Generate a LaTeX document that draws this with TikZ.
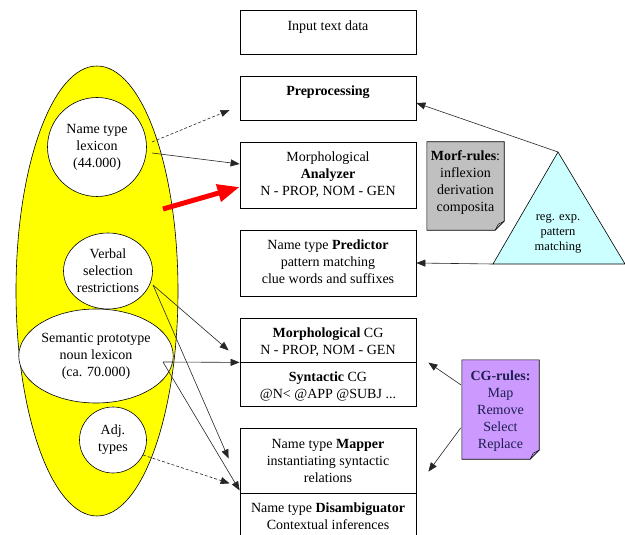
\documentclass[tikz,border=0pt]{standalone}
\usepackage{fontspec}
\setmainfont{Liberation Serif}
\usetikzlibrary{arrows.meta,shapes.geometric,calc}
\definecolor{yel}{RGB}{255,255,0}
\definecolor{cyanfill}{RGB}{204,255,255}
\definecolor{grayfill}{RGB}{192,192,192}
\definecolor{purplefill}{RGB}{204,153,255}
\definecolor{navytext}{RGB}{30,30,80}
\definecolor{redarrow}{RGB}{255,0,0}
\tikzset{
  stagebox/.style={draw, line width=0.8pt, minimum width=176pt, inner sep=0pt},
  stagetxt/.style={align=center, inner sep=0pt, anchor=north},
  lexnode/.style={draw, line width=0.6pt, fill=white, ellipse, inner sep=0pt, align=center},
  conn/.style={line width=0.6pt, draw=black!85, -{Triangle[length=9pt,width=7pt]}},
  dconn/.style={conn, dashed, dash pattern=on 3pt off 2pt},
  notetxt/.style={align=center, inner sep=0pt, anchor=north},
}
\begin{document}
\begin{tikzpicture}[x=1pt,y=-1pt,font=\fontsize{14}{17}\selectfont]
\clip (0,0) rectangle (625,535);
\fill[white] (0,0) rectangle (625,535);

% big yellow ellipse
\node[draw, line width=0.6pt, fill=yel, ellipse, minimum width=162pt, minimum height=450pt, inner sep=0pt] (big) at (97,291) {};

% left lexicon nodes
\node[lexnode, minimum width=99pt, minimum height=99pt] (lex) at (97,147) {Name type\\lexicon\\(44.000)};
\node[lexnode, minimum width=89pt, minimum height=76pt] (verb) at (108,271) {Verbal\\selection\\restrictions};
\node[lexnode, minimum width=131pt, minimum height=94pt] (sem) at (96,356) {Semantic prototype\\noun lexicon\\(ca. 70.000)};
\node[lexnode, minimum width=67pt, minimum height=66pt] (adj) at (113,440) {Adj.\\types};

% stage boxes
\node[stagebox, minimum height=44pt] (inp) at (328,32) {};
\node[stagetxt] (inpT) at ($(inp.north)+(0,11)$) {Input text data};
\node[stagebox, minimum height=44pt] (pre) at (328,98) {};
\node[stagetxt] (preT) at ($(pre.north)+(0,10)$) {\textbf{Preprocessing}};
\node[stagebox, minimum height=66pt] (ana) at (328,175) {};
\node[stagetxt] (anaT) at ($(ana.north)+(0,10)$) {Morphological\\\textbf{Analyzer}\\N - PROP, NOM - GEN};
\node[stagebox, minimum height=66pt] (pred) at (328,263) {};
\node[stagetxt] (predT) at ($(pred.north)+(0,10)$) {Name type \textbf{Predictor}\\pattern matching\\clue words and suffixes};
\node[stagebox, minimum height=44pt] (mcg) at (328,340) {};
\node[stagetxt] (mcgT) at ($(mcg.north)+(0,10)$) {\textbf{Morphological} CG\\N - PROP, NOM - GEN};
\node[stagebox, minimum height=44pt] (syn) at (328,384) {};
\node[stagetxt] (synT) at ($(syn.north)+(0,10)$) {\textbf{Syntactic} CG\\@N< @APP @SUBJ ...};
\node[stagebox, minimum height=65pt] (map) at (328,460.5) {};
\node[stagetxt] (mapT) at ($(map.north)+(0,12)$) {Name type \textbf{Mapper}\\instantiating syntactic\\relations};
\node[stagebox, minimum height=50pt] (dis) at (328,518) {};
\node[stagetxt] (disT) at ($(dis.north)+(0,10)$) {Name type \textbf{Disambiguator}\\Contextual inferences};

% Morf-rules note
\node[minimum width=77pt, minimum height=88pt, inner sep=0pt] (mr) at (465.5,186) {};
\draw[line width=0.6pt, fill=grayfill] (mr.north west) -- (mr.north east) -- ($(mr.south east)+(0,-9)$) -- ($(mr.south east)+(-9,0)$) -- (mr.south west) -- cycle;
\draw[line width=0.5pt] ($(mr.south east)+(-9,0)$) -- ($(mr.south east)+(-6,-6)$) -- ($(mr.south east)+(0,-9)$);
\node[notetxt] (mrT) at ($(mr.north)+(0,9)$) {\textbf{Morf-rules}:\\inflexion\\derivation\\composita};

% CG-rules note
\node[minimum width=77pt, minimum height=99pt, inner sep=0pt] (cgr) at (500.5,409.5) {};
\draw[line width=0.6pt, fill=purplefill] (cgr.north west) -- (cgr.north east) -- ($(cgr.south east)+(0,-9)$) -- ($(cgr.south east)+(-9,0)$) -- (cgr.south west) -- cycle;
\draw[line width=0.5pt] ($(cgr.south east)+(-9,0)$) -- ($(cgr.south east)+(-6,-6)$) -- ($(cgr.south east)+(0,-9)$);
\node[notetxt, text=navytext] (cgrT) at ($(cgr.north)+(0,11)$) {\textbf{CG-rules:}\\Map\\Remove\\Select\\Replace};

% triangle
\coordinate (apex) at (558,152);
\coordinate (bl) at (493,264);
\coordinate (br) at (625,264);
\draw[line width=0.6pt, fill=cyanfill] (apex) -- (br) -- (bl) -- cycle;
\node[align=center, inner sep=0pt, font=\fontsize{12.5}{15}\selectfont] (tri) at (558,234) {reg. exp.\\pattern\\matching};

% connectors
\draw[dconn] ($(lex.center)+(55,-5)$) -- ($(pre.west)+(-10,12)$);
\draw[conn] ($(lex.center)+(55,6)$) -- ($(ana.west)+(0,-11)$);
\coordinate (redstart) at (163,209);
\draw[line width=5pt, draw=redarrow, -{Triangle[length=22pt,width=17pt]}] (redstart) -- ($(ana.west)+(0,12)$);
\draw[conn] (apex) -- ($(pre.east)+(0,5)$);
\draw[conn] (bl) -- (pred.east);
\draw[conn] ($(verb.center)+(45,14)$) -- ($(mcg.south west)+(-11,-12)$);
\draw[conn] ($(verb.center)+(45,14)$) -- ($(map.west)+(-11,-2)$);
\draw[conn] ($(sem.center)+(67,6)$) -- (mcg.south west);
\draw[conn] ($(sem.center)+(67,6)$) -- ($(map.south west)+(0,-3)$);
\draw[dconn] ($(adj.center)+(30,15)$) -- ($(map.south west)+(-10,-10)$);
\draw[conn] ($(cgr.north west)+(-1,25)$) -- ($(syn.north east)+(12,1)$);
\draw[conn] ($(cgr.north west)+(-1,68)$) -- ($(map.north east)+(12,44)$);
\end{tikzpicture}
\end{document}
